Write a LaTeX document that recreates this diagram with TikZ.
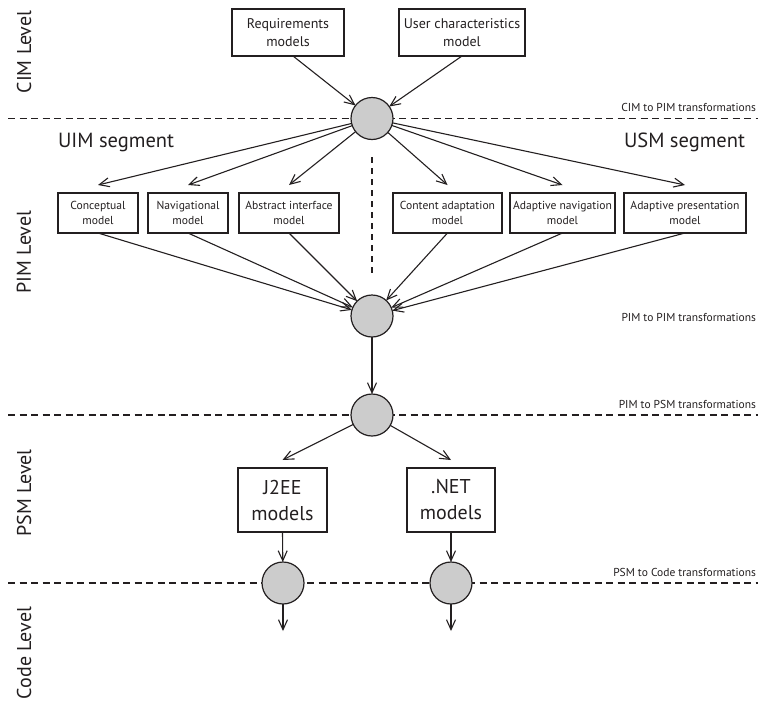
\documentclass[tikz,border=0pt]{standalone}
\usepackage{fontspec}
\setmainfont{PT Sans}
\usetikzlibrary{arrows.meta}
\definecolor{ink}{RGB}{35,31,32}
\definecolor{hubfill}{RGB}{204,204,204}

\begin{document}
\begin{tikzpicture}[x=1pt,y=1pt,
  every node/.style={inner sep=0pt, outer sep=0pt, text=ink},
  model/.style={draw=ink, line width=1.2pt, align=center,
    font=\fontsize{11.6}{15.5}\selectfont, minimum height=40pt},
  srcmodel/.style={draw=ink, line width=1.2pt, align=center,
    font=\fontsize{14}{18}\selectfont, minimum height=47pt},
  platform/.style={draw=ink, line width=1.2pt, align=center,
    font=\fontsize{20}{26}\selectfont, minimum height=64pt},
  hub/.style={circle, draw=ink, fill=hubfill, line width=1.2pt, minimum size=42pt},
  flow/.style={draw=ink, line width=1.1pt, -{Straight Barb[length=10pt,width=9pt]}},
  level/.style={rotate=90, font=\fontsize{20}{24}\selectfont},
  segment/.style={font=\fontsize{20.5}{24}\selectfont},
  note/.style={font=\fontsize{11.5}{13}\selectfont},
  boundary/.style={draw=ink, line width=1.2pt, dash pattern=on 7pt off 4.5pt},
]
\useasboundingbox (0,0) rectangle (758,-702);

% level boundaries
\coordinate (b1w) at (8,-118.5);   \coordinate (b1e) at (758,-118.5);
\coordinate (b2w) at (8,-415);     \coordinate (b2e) at (758,-415);
\coordinate (b3w) at (8,-583);     \coordinate (b3e) at (758,-583);
\draw[boundary] (b1w) -- (b1e);
\draw[boundary] (b2w) -- (b2e);
\draw[boundary] (b3w) -- (b3e);

% segment separator
\coordinate (segtop) at (372,-157);
\coordinate (segbot) at (372,-275);
\draw[boundary, dash pattern=on 6pt off 5pt] (segtop) -- (segbot);

% level names
\node[level] (lcim)  at (24,-52)  {CIM Level};
\node[level] (lpim)  at (24,-252) {PIM Level};
\node[level] (lpsm)  at (24,-493) {PSM Level};
\node[level] (lcode) at (24,-653) {Code Level};

% segment names
\node[segment, anchor=base west] (uim) at (58,-147)  {UIM segment};
\node[segment, anchor=base east] (usm) at (745,-147) {USM segment};

% transformation names
\node[note, anchor=base east] (t1) at (756,-111) {CIM to PIM transformations};
\node[note, anchor=base east] (t2) at (756,-321) {PIM to PIM transformations};
\node[note, anchor=base east] (t3) at (756,-408) {PIM to PSM transformations};
\node[note, anchor=base east] (t4) at (756,-576) {PSM to Code transformations};

% CIM models
\node[srcmodel, minimum width=112pt] (req) at (288,-32.5) {Requirements\\models};
\node[srcmodel, minimum width=126pt] (uc)  at (462,-32.5) {User characteristics\\model};

% transformation hubs
\node[hub] (c1) at (372,-118.5) {};
\node[hub] (c2) at (372,-316) {};
\node[hub] (c3) at (372,-415) {};
\node[hub] (c4a) at (283,-583) {};
\node[hub] (c4b) at (451,-583) {};

% PIM models
\node[model, minimum width=80pt]  (cm) at (98,-213)    {Conceptual\\model};
\node[model, minimum width=80pt]  (nm) at (188,-213)   {Navigational\\model};
\node[model, minimum width=100pt] (ai) at (289,-213)   {Abstract interface\\model};
\node[model, minimum width=109pt] (ca) at (447.5,-213) {Content adaptation\\model};
\node[model, minimum width=105pt] (an) at (562.5,-213) {Adaptive navigation\\model};
\node[model, minimum width=122pt] (ap) at (685,-213)   {Adaptive presentation\\model};

% PSM models
\node[platform, minimum width=89pt] (j2ee) at (282.5,-500) {J2EE\\models};
\node[platform, minimum width=88pt] (net)  at (451,-500)   {.NET\\models};

% code outputs
\coordinate (outa) at (283,-631);
\coordinate (outb) at (451,-631);

% CIM to PIM
\draw[flow] ([xshift=5pt]req.south) -- (c1);
\draw[flow] (uc.south) -- (c1);
\foreach \m in {cm,nm,ai,ca,an,ap}
  \draw[flow] (c1) -- ([yshift=8pt]\m.north);

% PIM to PIM
\foreach \m in {cm,nm,ai,ca,an,ap}
  \draw[flow] (\m.south) -- (c2);
\draw[flow] (c2) -- (c3);

% PIM to PSM
\draw[flow] (c3) -- ([yshift=8pt]j2ee.north);
\draw[flow] (c3) -- ([yshift=8pt]net.north);

% PSM to code
\draw[flow] (j2ee.south) -- (c4a);
\draw[flow] (net.south) -- (c4b);
\draw[flow] (c4a) -- (outa);
\draw[flow] (c4b) -- (outb);
\end{tikzpicture}
\end{document}
